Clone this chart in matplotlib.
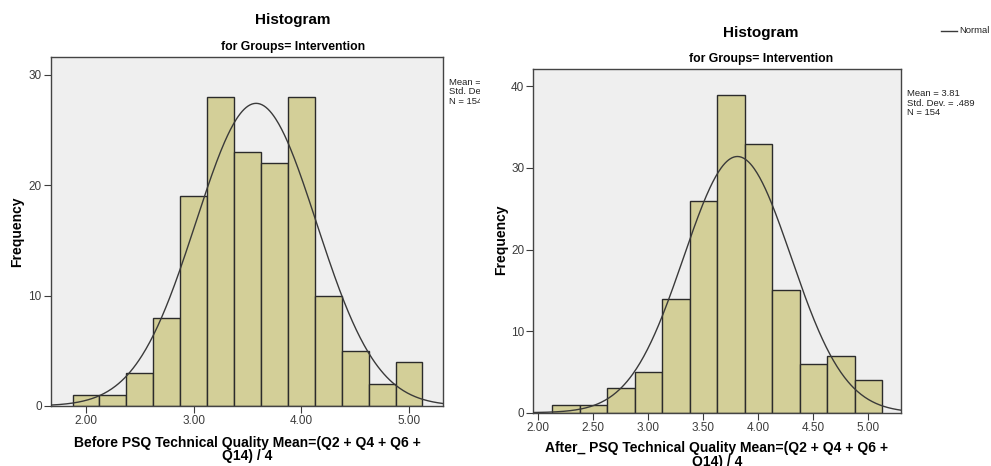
import numpy as np
import matplotlib
matplotlib.use("Agg")
import matplotlib.pyplot as plt
from matplotlib.transforms import Bbox, TransformedBbox

# Before: bins of width 0.25 centred at 2.00 ... 5.00
before_centers = [2.00, 2.25, 2.50, 2.75, 3.00, 3.25, 3.50, 3.75, 4.00, 4.25, 4.50, 4.75, 5.00]
before_counts = [1, 1, 3, 8, 19, 28, 23, 22, 28, 10, 5, 2, 4]
before_mean = 3.58
before_sd = 0.560
before_n = 154

# After: bins of width 0.25 centred at 2.25 ... 5.00
after_centers = [2.25, 2.50, 2.75, 3.00, 3.25, 3.50, 3.75, 4.00, 4.25, 4.50, 4.75, 5.00]
after_counts = [1, 1, 3, 5, 14, 26, 39, 33, 15, 6, 7, 4]
after_mean = 3.81
after_sd = 0.489
after_n = 154

bin_width = 0.25
before_xticks = [2.0, 3.0, 4.0, 5.0]
after_xticks = [2.0, 2.5, 3.0, 3.5, 4.0, 4.5, 5.0]
before_yticks = [0, 10, 20, 30]
after_yticks = [0, 10, 20, 30, 40]

W, H = 991, 466
FONT = "Liberation Sans"
BAR = "#d3cf98"
BG = "#efefef"
EDGE = "#2b2b2b"
TICK = "#3c3c3c"

plt.rcParams["font.family"] = [FONT, "DejaVu Sans"]
fig = plt.figure(figsize=(W / 100, H / 100), dpi=100)
fig.patch.set_facecolor("white")


def px_axes(left, top, right, bottom):
    return fig.add_axes([left / W, (H - bottom) / H, (right - left) / W, (bottom - top) / H])


def draw_panel(ax, centers, counts, mean, sd, n, xlim, ylim, xticks, yticks):
    ax.set_facecolor(BG)
    ax.bar(centers, counts, width=bin_width, color=BAR, edgecolor=EDGE, linewidth=1.0, zorder=2)
    xs = np.linspace(xlim[0], xlim[1], 400)
    ys = n * bin_width / (sd * np.sqrt(2 * np.pi)) * np.exp(-0.5 * ((xs - mean) / sd) ** 2)
    ax.plot(xs, ys, color="#3a3a3a", linewidth=1.0, zorder=3)
    ax.set_xlim(*xlim)
    ax.set_ylim(*ylim)
    ax.set_xticks(xticks)
    ax.set_xticklabels([f"{t:.2f}" for t in xticks])
    ax.set_yticks(yticks)
    ax.set_yticklabels([str(t) for t in yticks])
    ax.tick_params(axis="both", direction="out", length=5, width=0.8, color=TICK,
                   labelsize=8.5, labelcolor=TICK, pad=1.5)
    for s in ax.spines.values():
        s.set_color("#444444")
        s.set_linewidth(1.0)


# Left panel
ax1 = px_axes(50.7, 57.3, 442.7, 406)
draw_panel(ax1, before_centers, before_counts, before_mean, before_sd, before_n,
           (1.672, 5.313), (0, 31.6), before_xticks, before_yticks)

# Right panel
ax2 = px_axes(533.3, 69.3, 900.7, 412.7)
draw_panel(ax2, after_centers, after_counts, after_mean, after_sd, after_n,
           (1.955, 5.294), (0, 42.1), after_xticks, after_yticks)


def ftext(x, y, s, **kw):
    return fig.text(x / W, 1 - y / H, s, **kw)


# Titles
ftext(293, 20, "Histogram", ha="center", va="center", fontsize=11, fontweight="bold")
ftext(293, 47, "for Groups= Intervention", ha="center", va="center", fontsize=8.8, fontweight="bold")
ftext(760.7, 33, "Histogram", ha="center", va="center", fontsize=11, fontweight="bold")
ftext(760.7, 59.3, "for Groups= Intervention", ha="center", va="center", fontsize=8.8, fontweight="bold")

# Axis labels
ftext(17, 232, "Frequency", ha="center", va="center", rotation=90, fontsize=10, fontweight="bold")
ftext(501, 240, "Frequency", ha="center", va="center", rotation=90, fontsize=10, fontweight="bold")
ftext(247, 449.5, "Before PSQ Technical Quality Mean=(Q2 + Q4 + Q6 +\nQ14) / 4", ha="center",
      va="center", fontsize=10, fontweight="bold", linespacing=0.92)
ftext(716.7, 455, "After_ PSQ Technical Quality Mean=(Q2 + Q4 + Q6 +\nQ14) / 4", ha="center",
      va="center", fontsize=10, fontweight="bold", linespacing=0.92)

# Statistics boxes
left_stats = f"Mean = {before_mean:.2f}\nStd. Dev. = {before_sd:.3f}".replace("0.", ".") + f"\nN = {before_n}"
t = ftext(449, 78, left_stats, ha="left", va="top", fontsize=6.8, color="#222222", linespacing=1.05)
t.set_clip_box(TransformedBbox(Bbox([[0, 0], [480 / W, 1]]), fig.transFigure))
t.set_clip_on(True)

right_stats = f"Mean = {after_mean:.2f}\nStd. Dev. = {after_sd:.3f}".replace("0.", ".") + f"\nN = {after_n}"
ftext(906.7, 89.5, right_stats, ha="left", va="top", fontsize=6.8, color="#222222", linespacing=1.05)

# Legend entry for the normal curve
fig.add_artist(plt.Line2D([940.7 / W, 957 / W], [1 - 30.7 / H, 1 - 30.7 / H], color="#3a3a3a", linewidth=1.0))
ftext(959.3, 30.7, "Normal", ha="left", va="center", fontsize=6.8, color="#222222")

fig.savefig("out.png", dpi=100, facecolor="white")
